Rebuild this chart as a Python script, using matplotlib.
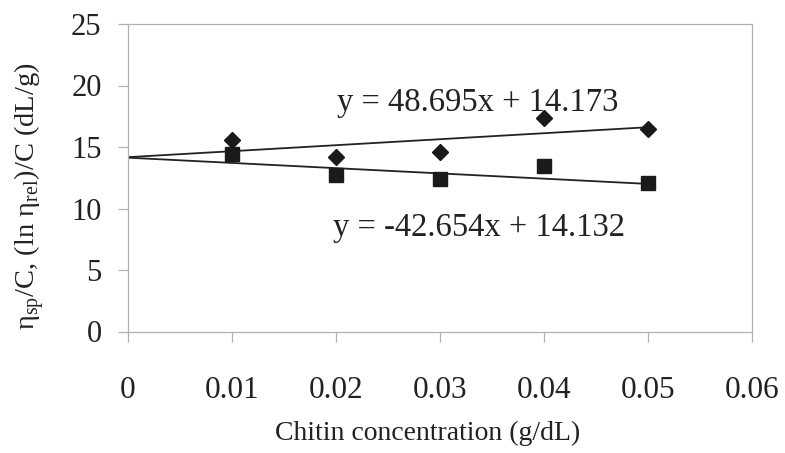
import numpy as np
import matplotlib
matplotlib.use('Agg')
import matplotlib.pyplot as plt

plt.rcParams['font.family'] = ['Liberation Serif', 'DejaVu Serif']
plt.rcParams['mathtext.fontset'] = 'custom'
plt.rcParams['mathtext.rm'] = 'Liberation Serif'

# chitin concentration (g/dL)
conc = [0.01, 0.02, 0.03, 0.04, 0.05]
# reduced viscosity eta_sp/C
eta_sp_c = [15.57, 14.21, 14.62, 17.38, 16.44]
# inherent viscosity (ln eta_rel)/C
ln_rel_c = [14.45, 12.72, 12.40, 13.46, 12.10]

# trend line coefficients printed on the chart
fit_sp = (48.695, 14.173)
fit_ln = (-42.654, 14.132)

W, H = 785, 453
fig = plt.figure(figsize=(W / 100, H / 100), dpi=100)
ax = fig.add_axes([128 / W, 1 - 331.5 / H, 624 / W, 307.5 / H])

xfit = np.array([0, 0.05])
ax.plot(xfit, fit_sp[0] * xfit + fit_sp[1], color='#222222', lw=1.3)
ax.plot(xfit, fit_ln[0] * xfit + fit_ln[1], color='#222222', lw=1.3)

ax.plot(conc, eta_sp_c, linestyle='none', marker='D', markersize=8,
        color='#1a1a1a')
ax.plot(conc, ln_rel_c, linestyle='none', marker='s', markersize=9.5,
        color='#1a1a1a')

ax.text(0.0201, 18.58, 'y = 48.695x + 14.173', fontsize=23.5, va='center',
        color='#222222')
ax.text(0.0197, 8.41, 'y = -42.654x + 14.132', fontsize=23.5, va='center',
        color='#222222')

ax.set_xlim(0, 0.06)
ax.set_ylim(0, 25)
ax.set_xticks([0, 0.01, 0.02, 0.03, 0.04, 0.05, 0.06])
ax.set_xticklabels(['0', '0.01', '0.02', '0.03', '0.04', '0.05', '0.06'])
ax.set_yticks([0, 5, 10, 15, 20, 25])

for s in ax.spines.values():
    s.set_color('#b0b0b0')
    s.set_linewidth(0.9)
ax.tick_params(axis='x', direction='out', length=7, width=0.9,
               color='#b0b0b0', labelcolor='#222222', labelsize=22.5, pad=25)
ax.tick_params(axis='y', direction='out', length=7, width=0.9,
               color='#b0b0b0', labelcolor='#222222', labelsize=22, pad=12)

fig.text(428 / W, 1 - 433 / H, 'Chitin concentration (g/dL)', fontsize=20,
         ha='center', va='center', color='#222222')
fig.text(30 / W, 1 - 196 / H,
         r'η$_{\mathrm{sp}}$/C, (ln η$_{\mathrm{rel}}$)/C (dL/g)',
         fontsize=20.5, rotation=90, ha='center', va='center', color='#222222')

fig.savefig('out.png', dpi=100)
